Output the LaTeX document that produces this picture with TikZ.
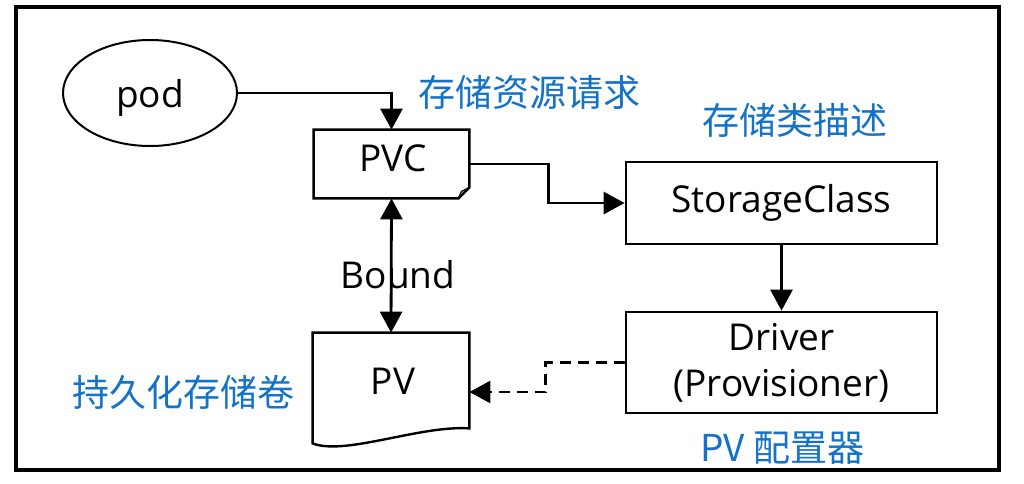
\documentclass[tikz,border=0pt]{standalone}
\usepackage{fontspec}
\setmainfont{Open Sans}
\newfontfamily\cjk{Noto Sans CJK SC}
\usetikzlibrary{arrows.meta,shapes.geometric}
\definecolor{lblblue}{RGB}{20,115,200}
\begin{document}
\begin{tikzpicture}[x=1pt,y=-1pt,
  line width=2.8pt,
  txt/.style={font=\fontsize{37}{46}\selectfont, inner sep=0pt, align=center},
  cn/.style={font=\cjk\fontsize{37}{46}\selectfont, text=lblblue, inner sep=0pt},
  arrowtip/.style={-{Triangle[length=21pt,width=22pt]}},
  dbltip/.style={{Triangle[length=21pt,width=22pt]}-{Triangle[length=21pt,width=22pt]}},
  boxn/.style={draw, line width=2.8pt, inner sep=0pt},
  shapeline/.style={line width=2.4pt, line join=miter}
]
\useasboundingbox (0,0) rectangle (1024,483);
\draw[line width=3.8pt] (16,7) rectangle (999,470);

% pod
\node[draw, ellipse, minimum width=174pt, minimum height=106pt, line width=2pt] (pod) at (150,93) {};
\node[txt] (podtext) at (150,98) {pod};

% PVC (folded corner)
\node[minimum width=153pt, minimum height=66pt, inner sep=0pt] (pvc) at (391.5,164) {};
\draw[shapeline] (pvc.north west) -- (pvc.north east) -- ([yshift=11pt]pvc.south east)
  -- ([xshift=-11pt]pvc.south east) -- (pvc.south west) -- cycle;
\draw[line width=1.2pt] ([xshift=-11pt]pvc.south east) -- ([xshift=-8pt,yshift=7pt]pvc.south east) -- ([yshift=11pt]pvc.south east);
\node[txt] (pvctext) at (393,158) {PVC};

% StorageClass
\node[boxn, minimum width=311pt, minimum height=82pt, txt] (sc) at (781.5,203) {StorageClass};

% Driver
\node[boxn, minimum width=311pt, minimum height=101pt, txt] (drv) at (781.5,362.5) {Driver\\(Provisioner)};

% PV (document shape)
\node[minimum width=154pt, minimum height=116pt, inner sep=0pt] (pv) at (391,392) {};
\draw[shapeline] (pv.north west) -- (pv.north east) -- ([yshift=23pt]pv.south east)
  .. controls (420,425) and (345,456) .. ([yshift=8pt]pv.south west) -- cycle;
\node[txt] (pvtext) at (393,381) {PV};

% connectors
\draw[arrowtip] (pod.east) -| (pvc.north);
\draw[arrowtip] (pvc.east) -- ++(79,0) |- (sc.west);
\draw[arrowtip] (sc.south) -- (drv.north);
\draw[arrowtip, dash pattern=on 11pt off 7pt] (drv.west) -- ++(-79,0) |- (pv.east);
\draw[dbltip] (pvc.south) -- (pv.north);
\node[txt] (bound) at (398,275) {Bound};

% blue labels
\node[cn] (l1) at (529,92) {存储资源请求};
\node[cn] (l2) at (795,120) {存储类描述};
\node[cn] (l3) at (183,392) {持久化存储卷};
\node[cn] (l4) at (782,448) {PV 配置器};
\end{tikzpicture}
\end{document}
